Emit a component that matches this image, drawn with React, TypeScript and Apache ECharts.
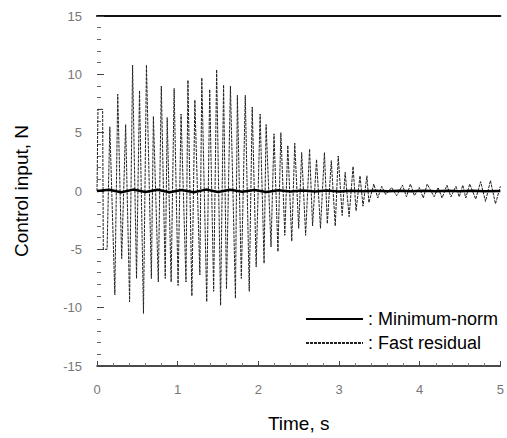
import React, { useEffect, useRef } from "react";
import * as echarts from "echarts";

// Fast residual: alternating peaks (time s, value N)
const residualTimes = [
  0.0, 0.012, 0.07, 0.078, 0.125, 0.159, 0.221, 0.257, 0.306, 0.355, 0.404, 0.441, 0.49, 0.527,
  0.576, 0.613, 0.674, 0.699, 0.76, 0.797, 0.846, 0.87, 0.919, 0.956, 1.005, 1.042, 1.103, 1.127,
  1.176, 1.213, 1.275, 1.299, 1.36, 1.397, 1.446, 1.483, 1.532, 1.569, 1.605, 1.654, 1.716, 1.74,
  1.789, 1.838, 1.887, 1.924, 1.973, 2.022, 2.071, 2.096, 2.157, 2.194, 2.243, 2.279, 2.328, 2.365,
  2.414, 2.451, 2.5, 2.537, 2.586, 2.635, 2.672, 2.721, 2.77, 2.819, 2.855, 2.904, 2.953, 2.99,
  3.039, 3.076, 3.125, 3.174, 3.211, 3.26, 3.297, 3.346, 3.37, 3.431, 3.48, 3.529, 3.578, 3.652,
  3.713, 3.787, 3.836, 3.885, 3.934, 3.995, 4.044, 4.093, 4.179, 4.228, 4.277, 4.338, 4.387, 4.449,
  4.49, 4.534, 4.571, 4.62, 4.694, 4.755, 4.816, 4.877, 4.939, 5.0,
];
const residualValues = [
  0, 7.0, 7.0, -5.0, -5.0, 5.5, -8.9, 8.3, -5.8, 5.7, -9.5, 10.8, -7.5, 8.6,
  -10.5, 10.8, -7.5, 6.4, -7.8, 9.0, -7.5, 6.3, -7.8, 8.8, -8.1, 6.6, -7.8, 9.5,
  -9.0, 7.8, -7.2, 9.7, -9.5, 8.7, -8.6, 10.4, -9.8, 9.1, -8.4, 9.0, -9.2, 8.2,
  -7.5, 8.2, -8.6, 7.2, -6.5, 6.6, -6.2, 5.7, -4.8, 4.9, -5.2, 5.0, -3.8, 3.9,
  -4.3, 4.1, -3.2, 3.3, -3.8, 3.6, -3.0, 2.7, -3.2, 3.3, -2.8, 2.6, -3.0, 3.0,
  -2.1, 1.6, -2.2, 2.1, -1.7, 1.3, -1.3, 1.3, -1.0, 0.6, -0.6, 0.4, -0.3, 0.3,
  -0.4, 0.5, -0.5, 0.6, -0.4, 0.3, -0.6, 0.6, -0.5, 0.3, -0.6, 0.5, -0.5, 0.4,
  -0.5, 0.5, -0.6, 0.6, -0.7, 0.8, -0.9, 0.9, -1.1, 0.4,
];

// Minimum-norm input: stays close to zero
const minNormTimes = [
  0, 0.15, 0.3, 0.45, 0.6, 0.75, 0.9, 1.05, 1.2, 1.35, 1.5, 1.65, 1.8, 1.95, 2.1, 2.25, 2.4,
  2.55, 2.7, 2.85, 3.0, 3.15, 3.3, 3.45, 3.6, 3.75, 3.9, 4.05, 4.2, 4.35, 4.5, 4.65, 4.8, 5.0,
];
const minNormValues = [
  0, 0.1, -0.1, 0.12, -0.08, 0.1, -0.1, 0.08, -0.1, 0.12, -0.08, 0.1, -0.06, 0.08, -0.08, 0.06, -0.05,
  0.05, -0.05, 0.04, -0.04, 0.03, -0.03, 0.02, -0.03, 0.02, -0.02, 0.02, -0.03, 0.02, -0.03, 0.03, -0.02, 0,
];

const seriesNames = ["Minimum-norm", "Fast residual"];

export default function App() {
  const ref = useRef<HTMLDivElement>(null);
  useEffect(() => {
    const chart = echarts.init(ref.current!, null, { renderer: "svg" });
    const font = "'Liberation Sans', Arial, Helvetica, sans-serif";
    const residual = residualTimes.map((t, i) => [t, residualValues[i]]);
    const minNorm = minNormTimes.map((t, i) => [t, minNormValues[i]]);
    chart.setOption({
      animation: false,
      backgroundColor: "#ffffff",
      grid: { left: 97, right: 2, top: 16, bottom: 70 },
      xAxis: [
        {
          type: "value",
          min: 0,
          max: 5,
          interval: 1,
          position: "bottom",
          name: "Time, s",
          nameLocation: "middle",
          nameGap: 48,
          nameTextStyle: { fontFamily: font, fontSize: 19, color: "#000" },
          axisLine: { show: true, onZero: false, lineStyle: { color: "#111", width: 1.5 } },
          axisTick: { show: true, inside: true, length: 5, lineStyle: { color: "#444" } },
          minorTick: { show: true, splitNumber: 5, length: 3, lineStyle: { color: "#777" } },
          axisLabel: { margin: 17, fontFamily: font, fontSize: 13, color: "#777" },
          splitLine: { show: false },
        },
        {
          type: "value",
          min: 0,
          max: 5,
          position: "top",
          axisLine: { show: true, onZero: false, lineStyle: { color: "#111", width: 2 } },
          axisTick: { show: false },
          axisLabel: { show: false },
          splitLine: { show: false },
        },
      ],
      yAxis: {
        type: "value",
        min: -15,
        max: 15,
        interval: 5,
        name: "Control input, N",
        nameLocation: "middle",
        nameGap: 66,
        nameTextStyle: { fontFamily: font, fontSize: 19, color: "#000" },
        axisLine: { show: false },
        axisTick: { show: true, inside: true, length: 7, lineStyle: { color: "#444" } },
        minorTick: { show: true, splitNumber: 5, length: 4, lineStyle: { color: "#666" } },
        axisLabel: { margin: 15, fontFamily: font, fontSize: 13, color: "#777" },
        splitLine: { show: false },
      },
      legend: {
        data: seriesNames,
        orient: "vertical",
        left: 305,
        top: 310,
        padding: 0,
        itemWidth: 57,
        itemHeight: 12,
        itemGap: 6,
        itemStyle: { opacity: 0 },
        formatter: (n: string) => ": " + n,
        textStyle: { fontFamily: font, fontSize: 18, color: "#000" },
      },
      series: [
        {
          name: seriesNames[0],
          type: "line",
          data: minNorm,
          symbol: "none",
          lineStyle: { color: "#000", width: 2.5 },
          itemStyle: { color: "#000" },
          z: 3,
        },
        {
          name: seriesNames[1],
          type: "line",
          data: residual,
          symbol: "none",
          lineStyle: { color: "#222", width: 1, type: [3, 1] },
          itemStyle: { color: "#222" },
          z: 2,
        },
      ],
    });
    return () => chart.dispose();
  }, []);
  return (
    <div
      ref={ref}
      style={{ position: "fixed", left: 0, top: 0, width: 507, height: 438, background: "#fff" }}
    />
  );
}
